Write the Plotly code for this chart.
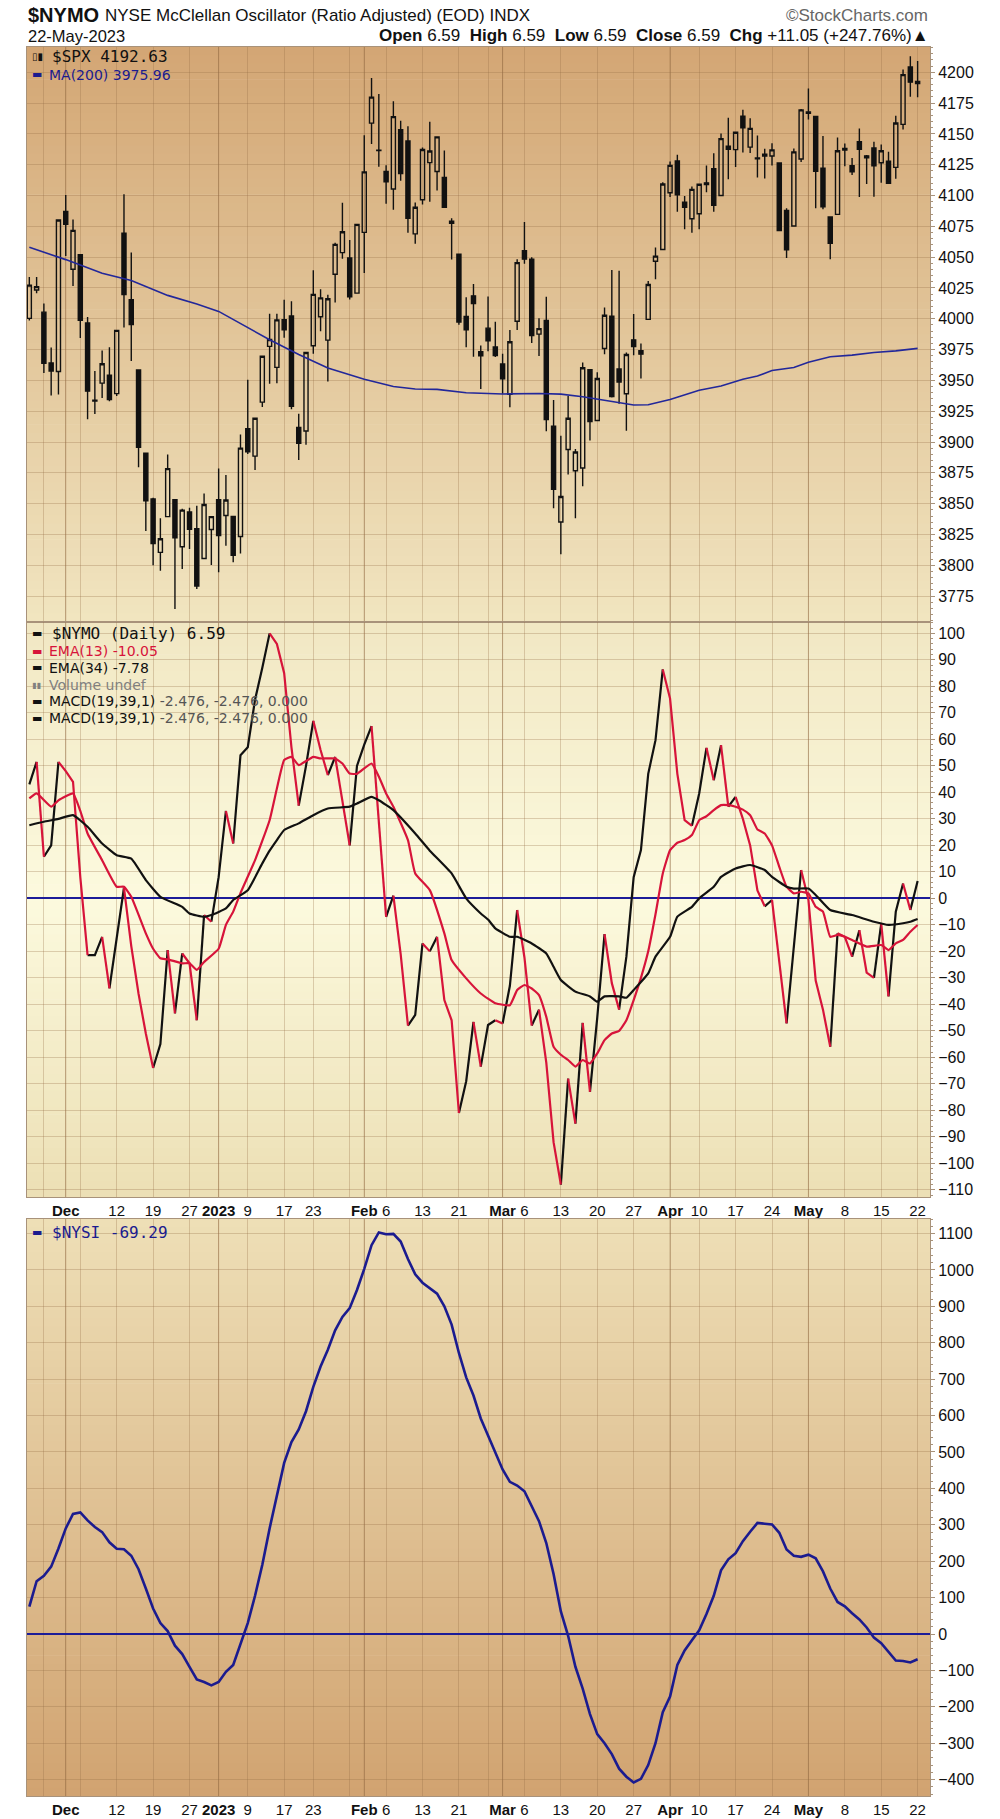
"""
StockCharts-style $NYMO chart: SPX candles, McClellan Oscillator, Summation Index.
"""
import pandas as pd
import plotly.graph_objects as go

# ---------------------------------------------------------------- data
HOLIDAYS = ["2022-11-24", "2022-12-26", "2023-01-02", "2023-01-16", "2023-02-20", "2023-04-07"]
_days = pd.bdate_range("2022-11-23", "2023-05-22")
_days = _days[~_days.isin(pd.to_datetime(HOLIDAYS))]
dates = [d.strftime("%Y-%m-%d") for d in _days]

spx_open = [
    4000.3, 4023.3, 4005.4, 3964.2, 3957.2, 4087.1, 4040.2, 4052.0, 3996.6, 3933.3,
    3947.8, 3954.2, 3939.3, 4069.4, 4015.5, 3958.4, 3890.9, 3853.8, 3810.5, 3839.5,
    3853.3, 3815.1, 3843.3, 3829.6, 3805.5, 3829.1, 3853.3, 3840.4, 3839.7, 3823.4,
    3910.8, 3888.6, 3932.35, 3977.6, 3960.6, 3999.3, 4002.25, 3911.8, 3909.0, 3978.1,
    4001.7, 3982.7, 4036.1, 4053.7, 4049.3, 4020.85, 4070.1, 4158.7, 4136.7, 4119.6,
    4105.35, 4153.5, 4144.25, 4068.9, 4096.6, 4126.7, 4119.5, 4114.75, 4077.4, 4052.35,
    4001.8, 4018.6, 3973.2, 3992.4, 3977.2, 3963.3, 3938.7, 3998.0, 4055.15, 4048.3,
    3987.55, 3998.7, 3912.8, 3835.1, 3894.0, 3876.7, 3878.9, 3958.7, 3917.5, 3975.9,
    4002.0, 3959.2, 3939.2, 3982.9, 3974.1, 3999.5, 4046.7, 4056.2, 4102.2, 4128.0,
    4094.5, 4081.15, 4085.2, 4110.3, 4121.7, 4100.0, 4140.1, 4137.2, 4164.3, 4139.3,
    4130.5, 4132.1, 4132.1, 4126.4, 4087.8, 4075.3, 4129.6, 4166.8, 4164.1, 4122.25,
    4082.6, 4084.7, 4136.98, 4124.25, 4143.7, 4132.2, 4138.5, 4126.65, 4127.95, 4122.85,
    4157.7, 4204.3, 4190.8,
]
spx_high = [
    4033.8, 4034.0, 4012.3, 3976.8, 4080.1, 4100.5, 4080.5, 4052.0, 4001.5, 3957.6,
    3974.2, 3977.0, 3990.7, 4101.0, 4053.8, 3958.4, 3890.9, 3854.9, 3838.2, 3889.8,
    3853.3, 3845.8, 3846.7, 3848.3, 3858.2, 3839.9, 3878.5, 3873.2, 3839.7, 3906.2,
    3950.6, 3919.8, 3970.1, 4004.0, 4004.0, 4015.4, 4014.2, 3922.9, 3973.0, 4039.3,
    4023.9, 4019.6, 4061.6, 4094.2, 4063.9, 4077.2, 4149.0, 4195.4, 4182.4, 4124.6,
    4176.5, 4160.7, 4156.2, 4094.4, 4138.9, 4159.8, 4148.1, 4136.5, 4081.5, 4052.4,
    4017.4, 4028.3, 3978.3, 4018.1, 3997.5, 3971.7, 3990.8, 4048.3, 4078.5, 4050.0,
    4000.4, 4017.8, 3934.1, 3905.1, 3937.3, 3894.3, 3964.5, 3958.9, 3956.6, 4009.1,
    4039.5, 4038.9, 3972.7, 4003.8, 3979.9, 4030.6, 4057.9, 4110.8, 4127.7, 4133.1,
    4099.7, 4107.3, 4109.5, 4124.3, 4134.4, 4150.3, 4163.2, 4151.7, 4169.5, 4162.6,
    4148.6, 4138.0, 4142.4, 4126.4, 4089.7, 4138.2, 4170.1, 4186.9, 4164.1, 4148.3,
    4082.6, 4147.0, 4142.3, 4130.4, 4154.3, 4132.8, 4143.7, 4141.3, 4135.5, 4164.7,
    4202.2, 4212.9, 4209.2,
]
spx_low = [
    3998.7, 4020.8, 3956.0, 3937.7, 3938.6, 4050.9, 4026.6, 3984.5, 3918.4, 3922.7,
    3935.8, 3933.0, 3937.3, 3993.0, 3965.7, 3879.5, 3827.9, 3800.0, 3795.6, 3839.5,
    3764.5, 3797.0, 3813.2, 3780.8, 3805.5, 3800.3, 3794.3, 3815.8, 3802.4, 3809.6,
    3890.4, 3877.3, 3928.5, 3947.2, 3947.7, 3984.6, 3926.6, 3885.5, 3897.9, 3971.6,
    3989.8, 3949.1, 4013.3, 4048.7, 4015.6, 4020.4, 4037.2, 4141.9, 4123.4, 4093.4,
    4088.4, 4111.9, 4069.7, 4060.8, 4092.7, 4095.0, 4104.0, 4089.9, 4048.0, 3995.2,
    3976.9, 3969.2, 3943.1, 3973.6, 3969.0, 3939.1, 3928.2, 3991.0, 4044.6, 3980.3,
    3969.8, 3908.7, 3846.3, 3808.9, 3873.6, 3838.2, 3864.1, 3901.3, 3916.9, 3971.2,
    3936.2, 3931.1, 3909.2, 3970.5, 3951.5, 3999.5, 4032.1, 4056.2, 4098.8, 4086.9,
    4072.6, 4069.8, 4072.6, 4102.6, 4086.9, 4099.4, 4113.2, 4123.2, 4135.0, 4134.5,
    4114.6, 4113.9, 4124.4, 4071.4, 4049.4, 4075.3, 4127.2, 4161.7, 4089.7, 4088.9,
    4048.3, 4084.7, 4123.8, 4116.7, 4098.9, 4109.3, 4099.1, 4110.3, 4109.9, 4113.6,
    4153.5, 4180.2, 4179.7,
]
spx_close = [
    4027.3, 4026.1, 3963.9, 3957.6, 4080.1, 4076.6, 4071.7, 3998.8, 3941.3, 3933.9,
    3963.5, 3934.4, 3990.6, 4019.7, 3995.3, 3895.8, 3852.4, 3817.7, 3821.6, 3878.4,
    3822.4, 3844.8, 3829.3, 3783.2, 3849.3, 3839.5, 3824.1, 3853.0, 3808.1, 3895.1,
    3892.1, 3919.3, 3969.6, 3983.2, 3999.1, 3991.0, 3928.9, 3898.9, 3972.6, 4019.8,
    4017.0, 4016.2, 4060.4, 4070.6, 4017.8, 4076.6, 4119.2, 4179.8, 4136.5, 4111.1,
    4164.0, 4117.9, 4081.5, 4090.5, 4137.3, 4136.1, 4147.6, 4090.4, 4079.1, 3997.3,
    3991.1, 4012.3, 3970.0, 3982.2, 3970.2, 3951.4, 3981.4, 4045.6, 4048.4, 3986.4,
    3992.0, 3918.3, 3861.6, 3855.8, 3919.3, 3891.9, 3960.3, 3916.6, 3951.6, 4002.9,
    3937.0, 3948.7, 3971.0, 3977.5, 3971.3, 4027.8, 4050.8, 4109.3, 4124.5, 4100.6,
    4090.4, 4105.0, 4109.1, 4108.9, 4092.0, 4146.2, 4137.6, 4151.3, 4154.9, 4154.5,
    4129.8, 4133.5, 4137.0, 4071.6, 4056.0, 4135.4, 4169.5, 4167.9, 4119.6, 4090.8,
    4061.2, 4136.3, 4138.1, 4119.2, 4137.6, 4130.6, 4124.1, 4136.3, 4109.9, 4158.8,
    4198.1, 4192.0, 4192.63,
]

# MA(200) of SPX, read at selected sessions (index into dates)
ma200_days = [0, 5, 10, 14, 19, 23, 26, 30, 33, 37, 41, 46, 50, 53, 56, 60, 65, 70,
              73, 76, 80, 83, 85, 88, 92, 95, 98, 100, 102, 105, 107, 110, 113, 116, 119, 122]
ma200_vals = [4058, 4048, 4037, 4031, 4019, 4012, 4006, 3993, 3983, 3971, 3960, 3951,
              3945, 3943, 3942.7, 3940, 3939, 3939.4, 3938.9, 3936.7, 3933.2, 3930,
              3930.2, 3934.5, 3942, 3945.4, 3951, 3953.5, 3958, 3960.5, 3964.8, 3969.2,
              3970.5, 3972.7, 3974, 3975.96]

nymo = [
    43, 51.5, 15.7, 20, 51.5, 48, 44, 8, -21.4, -21.4,
    -14.5, -34, -15, 4, -18, -36, -51, -64, -55, -19.5,
    -43.4, -20.8, -24.5, -46, -6.3, -8.8, 8, 33, 20.7, 54,
    57, 75, 87, 100, 96, 85, 57, 35, 50, 67,
    56, 46.5, 53.4, 37, 20, 50, 58, 65, 29.5, -7,
    1, -21, -48, -44, -17, -20, -14.5, -38.4, -46, -81,
    -69, -46.6, -63.5, -47.8, -46, -47.2, -33, -4.4, -22.3, -48,
    -42, -62, -92, -108, -68, -85, -47, -73, -45, -13.5,
    -32, -42, -22, 8, 18.2, 47, 59.7, 86.4, 75.4, 47,
    29.5, 27.4, 39.6, 56.8, 44.6, 57.8, 34.6, 38.3, 30, 20,
    3, -3, -0.6, -25, -47.2, -18, 10.7, -0.5, -31, -42,
    -56, -13.2, -14.5, -22, -12, -28, -30, -9.5, -37, -5,
    5.6, -4.4, 6.59,
]

ema13_days = [0, 1, 3, 4, 6, 7, 8, 10, 12, 13, 14, 16, 17, 18, 19, 21, 22, 23, 24, 26,
              27, 28, 29, 31, 33, 34, 35, 36, 37, 39, 40, 42, 43, 44, 45, 47, 48, 49, 50,
              52, 53, 55, 57, 58, 60, 62, 64, 66, 67, 68, 69, 70, 71, 72, 73, 74, 75, 76,
              77, 78, 79, 80, 81, 82, 83, 84, 85, 86, 87, 88, 89, 90, 91, 92, 93, 94, 95,
              96, 97, 98, 99, 100, 101, 102, 103, 104, 105, 106, 107, 108, 109, 110, 111,
              112, 113, 115, 117, 118, 119, 120, 121, 122]
ema13_vals = [37.7, 39.6, 34.6, 37, 39.6, 33, 24.5, 14.4, 4.4, 4.4, 0.6, -13.2, -19,
              -22.6, -23, -24.5, -24.5, -27, -24, -19, -10, -5, 2, 14.4, 29.5, 41.5,
              52.2, 53.4, 50.3, 53.4, 52.8, 52.8, 50.9, 47.1, 47, 50.9, 46, 39.6, 34.6,
              22, 9.4, 3.1, -13.2, -23.3, -30.2, -35.9, -39.6, -40.3, -34.6, -32.7, -34,
              -36.5, -44.7, -56, -59, -61, -63.5, -61, -62.3, -58.5, -53.5, -51, -50,
              -46, -38.4, -30, -20, -6, 9.4, 18.2, 21, 22, 23.9, 29.5, 31, 33.3, 35.2,
              35.2, 34.6, 33.5, 31.4, 26, 24.5, 20, 11.9, 4.4, 1.9, 2.5, 1.9, -3.2, -5,
              -14.5, -13.8, -14.5, -15.7, -18.2, -17.6, -19.5, -17, -15.7, -12.6, -10.05]

ema34_days = [0, 2, 4, 6, 8, 10, 12, 14, 16, 18, 21, 22, 24, 25, 27, 28, 30, 32, 33, 34,
              35, 37, 39, 41, 44, 45, 47, 48, 50, 53, 55, 58, 60, 62, 63, 64, 66, 67, 69,
              71, 72, 73, 75, 77, 78, 79, 81, 82, 83, 85, 86, 88, 89, 91, 92, 94, 95, 97,
              99, 101, 102, 104, 105, 107, 108, 110, 113, 116, 118, 120, 121, 122]
ema34_vals = [27.6, 28.9, 30, 31.4, 27, 20.7, 16.3, 15, 6.9, 0.6, -3.2, -5.7, -7, -6.3,
              -3.8, -0.6, 3.1, 13.2, 18, 22, 25.8, 28.3, 31.4, 33.9, 34.6, 35.8, 38.3,
              37, 33.3, 24.5, 18, 9.4, 0, -5.7, -8, -11.3, -14.5, -14.5, -17, -20.8,
              -25.8, -30.8, -35.2, -37, -39, -37, -37, -37.5, -34.6, -28.3, -22, -14.5,
              -6.9, -3.2, 0, 4.4, 8.1, 11.3, 12.6, 10.7, 8.1, 4.4, 3.7, 3.7, 1.3, -4.4,
              -6.3, -8.8, -10, -9.4, -8.8, -7.78]

nysi = [
    75, 145, 160, 185, 235, 290, 330, 334, 312, 294,
    280, 252, 234, 233, 215, 178, 125, 70, 30, 8,
    -32, -55, -90, -125, -132, -141, -132, -104, -85, -30,
    30, 105, 190, 290, 385, 470, 527, 562, 612, 679,
    735, 781, 834, 871, 895, 945, 1003, 1068, 1103, 1098,
    1099, 1078, 1030, 988, 965, 950, 935, 900, 850, 772,
    705, 655, 592, 545, 497, 452, 418, 408, 392, 350,
    310, 250, 165, 62, -5, -90, -150, -220, -275, -300,
    -330, -370, -392, -408, -398, -360, -300, -215, -172, -85,
    -45, -17, 10, 55, 105, 175, 205, 222, 255, 281,
    305, 303, 301, 278, 232, 215, 212, 218, 208, 172,
    125, 88, 76, 57, 40, 18, -10, -25, -50, -73,
    -74, -78, -69.29,
]

tick_dates = ["2022-11-28", "2022-12-01", "2022-12-05", "2022-12-12", "2022-12-19",
              "2022-12-27", "2023-01-03", "2023-01-09", "2023-01-17", "2023-01-23",
              "2023-01-30", "2023-02-01", "2023-02-06", "2023-02-13", "2023-02-21",
              "2023-02-27", "2023-03-01", "2023-03-06", "2023-03-13", "2023-03-20",
              "2023-03-27", "2023-04-03", "2023-04-10", "2023-04-17", "2023-04-24",
              "2023-05-01", "2023-05-08", "2023-05-15", "2023-05-22"]
tick_text = ["", "<b>Dec</b>", "", "12", "19", "27", "<b>2023</b>", "9", "17", "23", "",
             "<b>Feb</b>", "6", "13", "21", "", "<b>Mar</b>", "6", "13", "20", "27",
             "<b>Apr</b>", "10", "17", "24", "<b>May</b>", "8", "15", "22"]
month_dates = ["2022-12-01", "2023-01-03", "2023-02-01", "2023-03-01", "2023-04-03", "2023-05-01"]

# ---------------------------------------------------------------- style
W, H = 1000, 1819
X0, X1 = 27 / W, 930 / W
TOP = (1 - 622 / H, 1 - 47 / H)
MID = (1 - 1197 / H, 1 - 622 / H)
BOT = (1 - 1796 / H, 1 - 1219 / H)

BLACK = "#111111"
RED = "#D7143A"
NAVY = "#1B1B8F"
GRID = "rgba(150,110,70,0.30)"
FRAME = "#A8927A"
FONT = "Liberation Sans, Arial, sans-serif"
LEG_FONT = "DejaVu Sans, Verdana, sans-serif"
MONO = "DejaVu Sans Mono, monospace"


def _mix(stops, f):
    for (f0, c0), (f1, c1) in zip(stops, stops[1:]):
        if f0 <= f <= f1:
            t = (f - f0) / (f1 - f0)
            return "rgb(%d,%d,%d)" % tuple(round(a + (b - a) * t) for a, b in zip(c0, c1))
    return "rgb(%d,%d,%d)" % stops[-1][1]


def _gradient(dom, stops, n=70):
    y0, y1 = dom
    out = []
    for k in range(n):
        a = y0 + (y1 - y0) * k / n
        b = y0 + (y1 - y0) * (k + 1) / n
        out.append(dict(type="rect", xref="paper", yref="paper", x0=X0, x1=X1,
                        y0=a, y1=min(b + 0.0004, y1), layer="below", line=dict(width=0),
                        fillcolor=_mix(stops, (k + 0.5) / n)))
    return out


def _ann(text, x, y, size=14, color=BLACK, xanchor="left", family=LEG_FONT):
    return dict(text=text, x=x / W, y=1 - y / H, xref="paper", yref="paper",
                xanchor=xanchor, yanchor="middle", showarrow=False,
                font=dict(size=size, color=color, family=family))


fig = go.Figure()

fig.add_trace(go.Candlestick(
    x=dates, open=spx_open, high=spx_high, low=spx_low, close=spx_close,
    increasing=dict(line=dict(color=BLACK, width=1.4), fillcolor="rgba(0,0,0,0)"),
    decreasing=dict(line=dict(color=BLACK, width=1.4), fillcolor=BLACK),
    whiskerwidth=0, xaxis="x", yaxis="y", showlegend=False, hoverinfo="skip",
))
fig.add_trace(go.Scatter(
    x=[dates[k] for k in ma200_days], y=ma200_vals, mode="lines",
    line=dict(color="#22279A", width=1.6), xaxis="x", yaxis="y", hoverinfo="skip",
))

# oscillator: black on rising legs, red on falling legs
runs = []
for k in range(len(nymo) - 1):
    up = nymo[k + 1] >= nymo[k]
    if runs and runs[-1][0] == up:
        runs[-1][1].append(k + 1)
    else:
        runs.append((up, [k, k + 1]))
for up in (True, False):
    xs, ys = [], []
    for flag, idx in runs:
        if flag == up:
            xs += [dates[k] for k in idx] + [None]
            ys += [nymo[k] for k in idx] + [None]
    fig.add_trace(go.Scatter(x=xs, y=ys, mode="lines", connectgaps=False,
                             line=dict(color=BLACK if up else RED, width=2.2),
                             xaxis="x2", yaxis="y2", hoverinfo="skip"))

fig.add_trace(go.Scatter(x=[dates[k] for k in ema13_days], y=ema13_vals, mode="lines",
                         line=dict(color=RED, width=2.2, shape="spline", smoothing=0.4),
                         xaxis="x2", yaxis="y2", hoverinfo="skip"))
fig.add_trace(go.Scatter(x=[dates[k] for k in ema34_days], y=ema34_vals, mode="lines",
                         line=dict(color=BLACK, width=2.2, shape="spline", smoothing=0.4),
                         xaxis="x2", yaxis="y2", hoverinfo="skip"))

fig.add_trace(go.Scatter(x=dates, y=nysi, mode="lines", line=dict(color=NAVY, width=2.6),
                         xaxis="x3", yaxis="y3", hoverinfo="skip"))

shapes = []
shapes += _gradient(TOP, [(0, (241, 229, 192)), (1, (211, 166, 116))])
shapes += _gradient(MID, [(0, (236, 223, 180)), (0.52, (252, 250, 222)), (1, (241, 231, 195))])
shapes += _gradient(BOT, [(0, (209, 163, 113)), (1, (238, 223, 182))])
for md in month_dates:
    for dom in (TOP, MID, BOT):
        shapes.append(dict(type="line", xref="x", yref="paper", x0=dates.index(md),
                           x1=dates.index(md), y0=dom[0], y1=dom[1], layer="below",
                           line=dict(color="rgba(140,100,60,0.45)", width=1)))

xrange = [-0.32, len(dates) + 0.7]
xcommon = dict(type="category", range=xrange, domain=[X0, X1], tickmode="array",
               tickvals=tick_dates, ticktext=tick_text, tickangle=0, showgrid=True,
               gridcolor=GRID, gridwidth=1, showline=True, mirror=True, linecolor=FRAME,
               linewidth=1, ticks="", zeroline=False, automargin=False,
               tickfont=dict(size=15, family=FONT, color=BLACK), rangeslider=dict(visible=False))
ycommon = dict(side="right", showgrid=True, gridcolor=GRID, gridwidth=1, showline=True,
               mirror=True, linecolor=FRAME, linewidth=1, ticks="outside", ticklen=4,
               tickcolor=FRAME, automargin=False, tickmode="array",
               tickfont=dict(size=16, family=FONT, color=BLACK),
               minor=dict(ticks="outside", ticklen=2, tickcolor=FRAME, showgrid=False))

fig.update_layout(
    width=W, height=H, margin=dict(l=0, r=0, t=0, b=0),
    paper_bgcolor="white", plot_bgcolor="rgba(0,0,0,0)", showlegend=False,
    boxgap=0.2, hovermode=False, shapes=shapes,
    xaxis=dict(xcommon, anchor="y", showticklabels=False),
    xaxis2=dict(xcommon, anchor="y2", matches="x", showticklabels=True),
    xaxis3=dict(xcommon, anchor="y3", matches="x", showticklabels=True),
    yaxis=dict(ycommon, anchor="x", domain=list(TOP), range=[3754, 4220.5],
               tickvals=list(range(3775, 4201, 25)), minor=dict(ycommon["minor"], dtick=5)),
    yaxis2=dict(ycommon, anchor="x2", domain=list(MID), range=[-112.7, 104.3],
                tickvals=list(range(-110, 101, 10)), minor=dict(ycommon["minor"], dtick=2),
                zeroline=True, zerolinecolor="#1C1C99", zerolinewidth=1.6),
    yaxis3=dict(ycommon, anchor="x3", domain=list(BOT), range=[-445, 1140],
                tickvals=list(range(-400, 1101, 100)), minor=dict(ycommon["minor"], dtick=20),
                zeroline=True, zerolinecolor="#1C1C99", zerolinewidth=1.8),
)

anns = [
    _ann("<b>$NYMO</b>", 26, 15, 20, family=FONT),
    _ann("NYSE McClellan Oscillator (Ratio Adjusted) (EOD) INDX", 103, 15, 17, family=FONT),
    _ann("©StockCharts.com", 930, 15, 17, "#666666", "right", FONT),
    _ann("22-May-2023", 26, 36, 16.5, family=FONT),
    _ann("<b>Open</b> 6.59  <b>High</b> 6.59  <b>Low</b> 6.59  <b>Close</b> 6.59  "
         "<b>Chg</b> +11.05 (+247.76%)▲", 930, 36, 17, xanchor="right", family=FONT),
    # price panel legend
    _ann("▯▮", 30, 57, 10),
    _ann("$SPX 4192.63", 50, 57, 16, family=MONO),
    _ann("▬", 30, 75, 11, NAVY),
    _ann("MA(200) 3975.96", 47, 75, 14, NAVY),
    # oscillator legend
    _ann("▬", 30, 633, 11),
    _ann("$NYMO (Daily) 6.59", 50, 633, 16, family=MONO),
    _ann("▬", 30, 651, 11, RED),
    _ann("EMA(13) -10.05", 47, 651, 14, RED),
    _ann("▬", 30, 668, 11),
    _ann("EMA(34) -7.78", 47, 668, 14),
    _ann("▮▮", 30, 685, 8, "#808080"),
    _ann("Volume undef", 47, 685, 14, "#808080"),
    _ann("▬", 30, 701, 11),
    _ann("MACD(19,39,1) <span style='color:#555'>-2.476, -2.476, 0.000</span>", 47, 701, 14),
    _ann("▬", 30, 718, 11),
    _ann("MACD(19,39,1) <span style='color:#555'>-2.476, -2.476, 0.000</span>", 47, 718, 14),
    # summation legend
    _ann("▬", 30, 1232, 11, NAVY),
    _ann("$NYSI -69.29", 50, 1232, 16, NAVY, family=MONO),
]
fig.update_layout(annotations=anns)

# the page is photographed from its top-left corner: drop the default body margin
fig.write_html("out.html", config={"displayModeBar": False},
               post_script="document.body.style.margin='0px';")
